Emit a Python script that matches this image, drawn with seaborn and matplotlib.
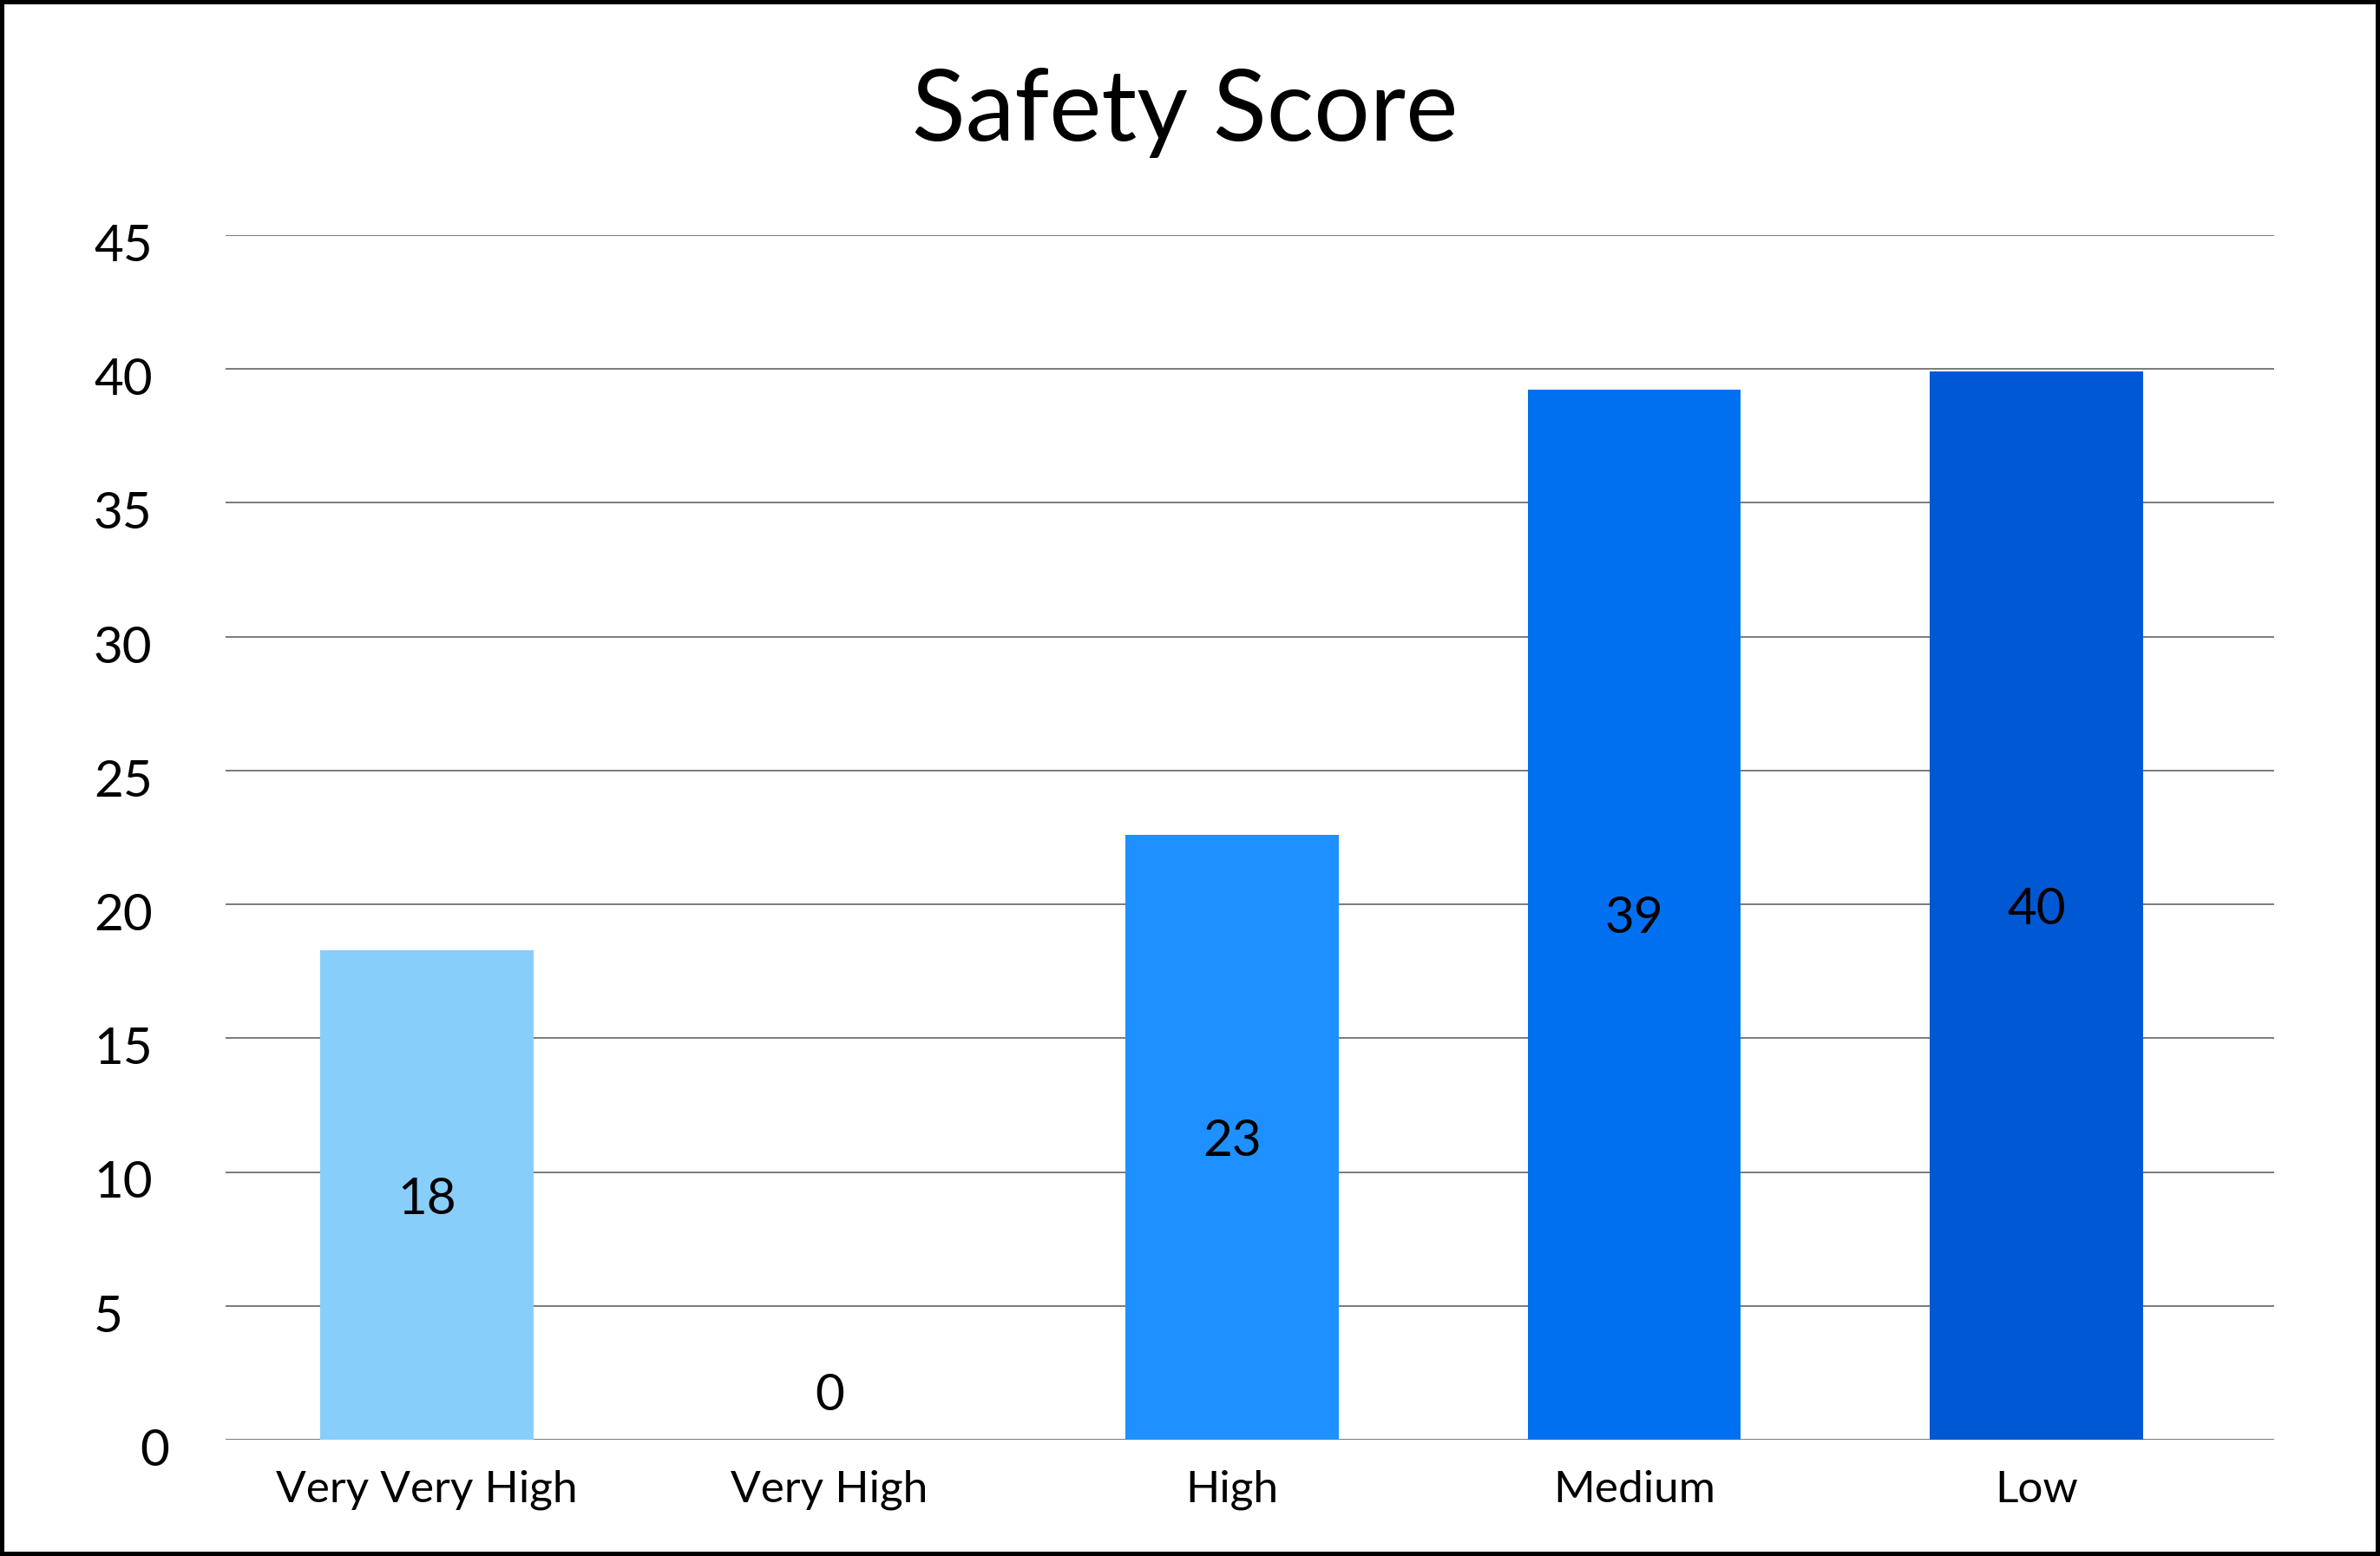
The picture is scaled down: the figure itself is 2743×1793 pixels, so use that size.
import matplotlib
matplotlib.use("Agg")
import matplotlib.pyplot as plt
import matplotlib.transforms as mtransforms
import seaborn as sns
import pandas as pd

# ---- data ----
categories = ["Very Very High", "Very High", "High", "Medium", "Low"]
values = [18.27, 0.0, 22.6, 39.23, 39.91]
value_labels = ["18", "0", "23", "39", "40"]
colors = ["#87CEFA", "#1E90FF", "#1E90FF", "#0070F0", "#0058D3"]
yticks = [0, 5, 10, 15, 20, 25, 30, 35, 40, 45]
title = "Safety Score"

sns.set_theme(style="white")
FONT = ["Lato", "DejaVu Sans"]
plt.rcParams["font.family"] = FONT

W, H, DPI = 2743, 1793, 100
fig = plt.figure(figsize=(W / DPI, H / DPI), dpi=DPI)
fig.patch.set_facecolor("white")
fig.patch.set_edgecolor("black")
fig.patch.set_linewidth(7.2)

ax = fig.add_axes([260 / W, 1 - 1659 / H, (2621 - 260) / W, (1659 - 271) / H])

df = pd.DataFrame({"cat": categories, "val": values})
sns.barplot(data=df, x="cat", y="val", hue="cat", palette=colors,
            width=0.53, saturation=1, legend=False, ax=ax, zorder=3,
            linewidth=0)

ax.set_xlim(-0.5, 4.59)
ax.set_ylim(0, 45)
ax.set_yticks(yticks)
ax.set_yticklabels([])
ax.yaxis.grid(True, color="#7a7a7a", linewidth=1.4, zorder=0)
ax.xaxis.grid(False)
ax.set_axisbelow(True)
for s in ax.spines.values():
    s.set_visible(False)
ax.set_xlabel("")
ax.set_ylabel("")

ax.tick_params(axis="y", length=0)
ax.tick_params(axis="x", length=0, pad=25, labelsize=37)
for lab in ax.get_xticklabels():
    lab.set_color("black")

# y tick labels (left aligned, as in the reference)
ytrans = mtransforms.blended_transform_factory(fig.transFigure, ax.transData)
ytrans = ytrans + mtransforms.ScaledTranslation(0, -6 / 72, fig.dpi_scale_trans)
for t in yticks:
    xpos = 161 / W if t == 0 else 108 / W
    ax.text(xpos, t, str(t), transform=ytrans, ha="left", va="center_baseline",
            fontsize=42, color="black", clip_on=False)

# value labels
for i, (v, lab) in enumerate(zip(values, value_labels)):
    if v > 0:
        ax.text(i, v / 2, lab, ha="center", va="center_baseline", fontsize=42, color="black", zorder=5)
    else:
        ax.annotate(lab, xy=(i, 0), xytext=(0, 40), textcoords="offset points",
                    ha="center", va="center_baseline", fontsize=42, color="black")

fig.text(1366 / W, 1 - 130 / H, title, ha="center", va="center", fontsize=82, color="black")

fig.savefig("out.png", dpi=DPI)
